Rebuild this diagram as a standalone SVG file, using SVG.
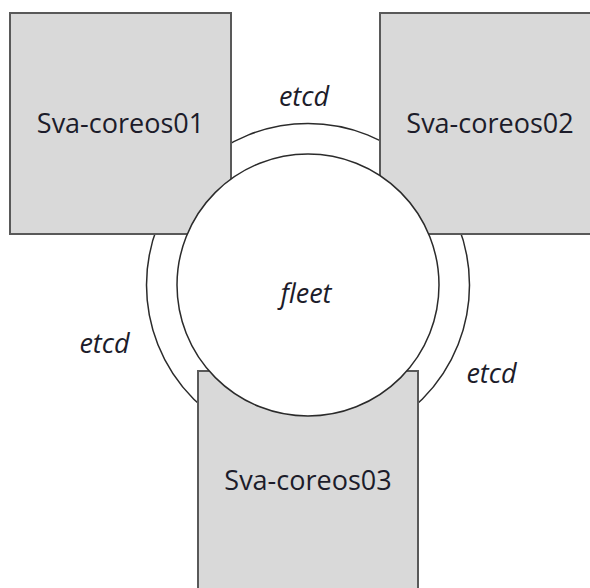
<svg xmlns="http://www.w3.org/2000/svg" width="590" height="588" viewBox="0 0 590 588">
  <style>
    .host { fill: #d9d9d9; stroke: #595959; stroke-width: 2; }
    .ring { fill: #ffffff; stroke: #2b2b2b; stroke-width: 1.5; }
    .label { font-family: "Open Sans", "Liberation Sans", sans-serif; font-size: 27px; fill: #1c1c2a; text-anchor: middle; }
    .proto { font-style: italic; }
  </style>
  <rect width="590" height="588" fill="#ffffff"/>

  <!-- etcd cluster ring behind the hosts -->
  <g id="etcd-ring">
    <circle class="ring" cx="308" cy="285" r="161.5"/>
  </g>

  <g id="sva-coreos01">
    <rect class="host" x="10" y="13" width="221" height="221"/>
    <text class="label" x="120.5" y="133">Sva-coreos01</text>
  </g>

  <g id="sva-coreos02">
    <rect class="host" x="380" y="13" width="221" height="221"/>
    <text class="label" x="490" y="133">Sva-coreos02</text>
  </g>

  <g id="sva-coreos03">
    <rect class="host" x="198" y="371" width="220" height="230"/>
    <text class="label" x="308" y="490">Sva-coreos03</text>
  </g>

  <!-- fleet core on top of the hosts -->
  <g id="fleet">
    <circle class="ring" cx="308" cy="285" r="131"/>
    <text class="label proto" x="306" y="303">fleet</text>
  </g>

  <g id="etcd-labels">
    <text class="label proto" x="304" y="106">etcd</text>
    <text class="label proto" x="104.5" y="353">etcd</text>
    <text class="label proto" x="491.5" y="383">etcd</text>
  </g>
</svg>
